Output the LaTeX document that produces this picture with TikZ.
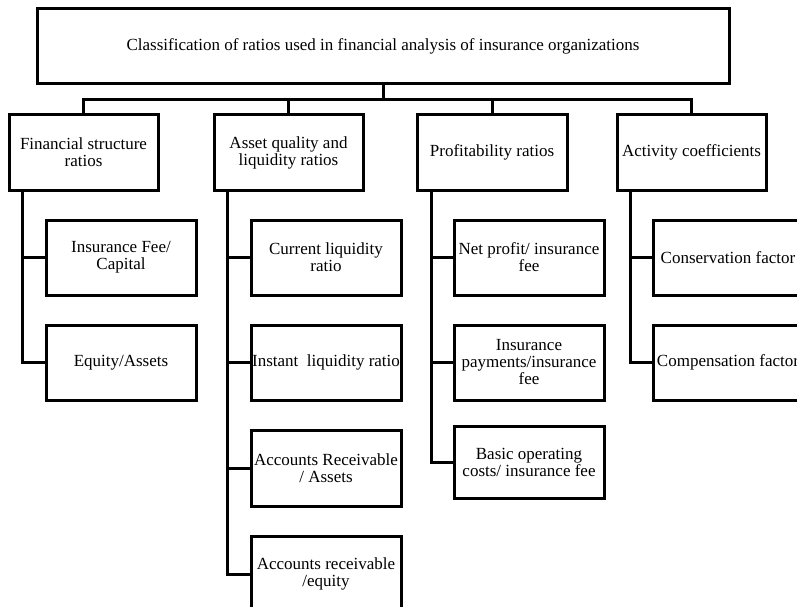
\documentclass[tikz,border=0pt]{standalone}
\usepackage{fontspec}
\setmainfont{Liberation Serif}
\begin{document}
\begin{tikzpicture}[x=1pt,y=-1pt,
  box/.style={draw=black, line width=3pt, align=center, inner sep=0pt,
    font=\fontsize{17}{17}\selectfont, text=black},
  lvl/.style={box, minimum width=149pt, minimum height=75pt},
  leaf/.style={box, minimum width=150pt, minimum height=75pt},
  link/.style={draw=black, line width=3pt, line join=miter}]
\useasboundingbox (0,0) rectangle (797,607);
\clip (0,0) rectangle (797,607);
\fill[white] (0,0) rectangle (797,607);

\node[box, minimum width=692pt, minimum height=75pt] (top) at (383,46.5)
  {Classification of ratios used in financial analysis of insurance organizations};

\node[lvl] (fin) at (83.5,152.5) {Financial structure\\ratios};
\node[lvl] (asset) at (288.5,152.5) {Asset quality and\\liquidity ratios};
\node[lvl, minimum width=150pt] (prof) at (492,152.5) {Profitability ratios};
\node[lvl] (act) at (691.5,152.5) {Activity coefficients};

\node[leaf] (f1) at (121,257.5) {Insurance Fee/\\Capital};
\node[leaf] (f2) at (121,362.5) {Equity/Assets};

\node[leaf] (a1) at (326,257.5) {Current liquidity\\ratio};
\node[leaf] (a2) at (326,362.5) {Instant\ \ liquidity ratio};
\node[leaf, minimum height=76pt] (a3) at (326,468) {Accounts Receivable\\/ Assets};
\node[leaf, minimum height=76pt] (a4) at (326,574) {Accounts receivable\\/equity};

\node[leaf] (p1) at (529,257.5) {Net profit/ insurance\\fee};
\node[leaf] (p2) at (529,362.5) {Insurance\\payments/insurance\\fee};
\node[leaf, minimum height=72pt] (p3) at (529,462) {Basic operating\\costs/ insurance fee};

\node[leaf] (c1) at (728,257.5) {Conservation factor};
\node[leaf] (c2) at (728,362.5) {Compensation factor};

% top-level connectors
\coordinate (bus) at (0,100);
\draw[link] (top.south) -- (top.south |- bus);
\draw[link] (fin.north) |- (act.north |- bus) -- (act.north);
\draw[link] (asset.north) -- (asset.north |- bus);
\draw[link] (prof.north) -- (prof.north |- bus);

% branch spines
\coordinate (fs) at ([xshift=15pt]fin.south west);
\coordinate (as) at ([xshift=15pt]asset.south west);
\coordinate (ps) at ([xshift=16pt]prof.south west);
\coordinate (cs) at ([xshift=15pt]act.south west);

\draw[link] (fs) |- (f2.west);
\draw[link] (f1.west) -- (f1.west -| fs);

\draw[link] (as) |- (a4.west);
\draw[link] (a1.west) -- (a1.west -| as);
\draw[link] (a2.west) -- (a2.west -| as);
\draw[link] (a3.west) -- (a3.west -| as);

\draw[link] (ps) |- (p3.west);
\draw[link] (p1.west) -- (p1.west -| ps);
\draw[link] (p2.west) -- (p2.west -| ps);

\draw[link] (cs) |- (c2.west);
\draw[link] (c1.west) -- (c1.west -| cs);
\end{tikzpicture}
\end{document}
